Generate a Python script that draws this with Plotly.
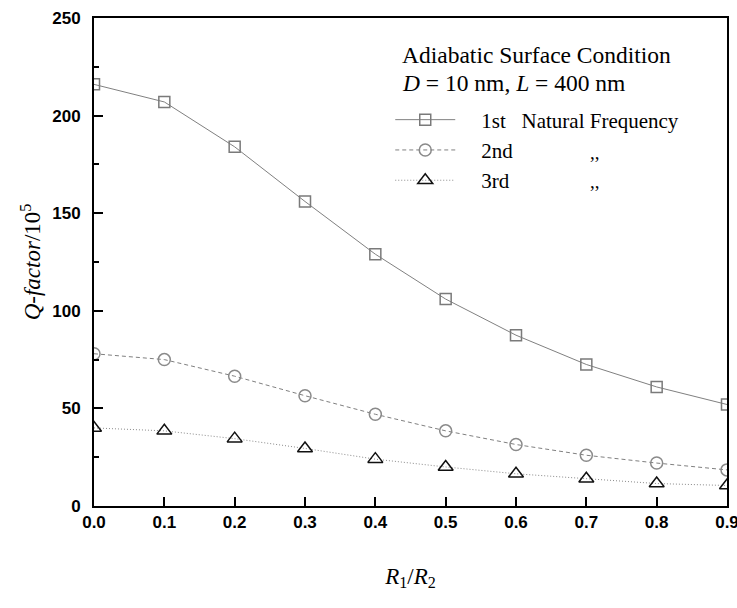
import plotly.graph_objects as go

ratio = [0.0, 0.1, 0.2, 0.3, 0.4, 0.5, 0.6, 0.7, 0.8, 0.9]
q_1st = [216, 207, 184, 156, 129, 106, 87.5, 72.5, 61, 52]
q_2nd = [78, 75, 66.5, 56.5, 47, 38.5, 31.5, 26, 22, 18.5]
q_3rd = [40, 38.5, 34.5, 29.5, 24, 20, 16.5, 14, 11.5, 10.5]
pad = "&nbsp;" * 4
names = [pad + "1st&nbsp;&nbsp;&nbsp;Natural Frequency", pad + "2nd", pad + "3rd"]

fig = go.Figure()
fig.add_trace(go.Scatter(x=ratio, y=q_1st, name=names[0], mode="lines+markers",
                         line=dict(color="#808080", width=1, dash="solid"),
                         marker=dict(symbol="square-open", size=11, color="#7a7a7a", line=dict(width=1.5))))
fig.add_trace(go.Scatter(x=ratio, y=q_2nd, name=names[1], mode="lines+markers",
                         line=dict(color="#808080", width=1, dash="4px,3px"),
                         marker=dict(symbol="circle-open", size=12, color="#8a8a8a", line=dict(width=1.5))))
fig.add_trace(go.Scatter(x=ratio, y=q_3rd, name=names[2], mode="lines+markers",
                         line=dict(color="#8a8a8a", width=1, dash="1px,2px"),
                         marker=dict(symbol="triangle-up-open", size=13, color="#111111", line=dict(width=1.5))))

tickfont = dict(family="Liberation Sans, Arial", size=17, color="black", weight="bold")
fig.update_layout(
    width=737, height=608,
    margin=dict(l=94, r=10, t=18, b=102),
    paper_bgcolor="white", plot_bgcolor="white",
    font=dict(family="Liberation Serif, Times New Roman", size=19, color="black"),
    showlegend=True,
    legend=dict(x=0.468, y=0.833, xanchor="left", yanchor="top",
                bgcolor="rgba(0,0,0,0)", font=dict(family="Liberation Serif", size=21),
                tracegroupgap=0, itemwidth=60),
    xaxis=dict(range=[0, 0.9], dtick=0.1, tickformat=".1f", showgrid=False, zeroline=False,
               ticks="inside", ticklen=9, tickwidth=2, tickcolor="black",
               showline=True, linecolor="black", linewidth=2, mirror=True,
               tickfont=tickfont, automargin=False, ticklabeloverflow="allow",
               title=dict(text="<i>R</i><sub>1</sub>/<i>R</i><sub>2</sub>",
                          font=dict(family="Liberation Serif", size=23), standoff=36)),
    yaxis=dict(range=[0, 250], dtick=50, showgrid=False, zeroline=False,
               ticks="inside", ticklen=9, tickwidth=2, tickcolor="black",
               minor=dict(dtick=25, ticks="inside", ticklen=5, tickwidth=2, tickcolor="black"),
               showline=True, linecolor="black", linewidth=2, mirror=True,
               tickfont=tickfont, automargin=False, ticklabelstandoff=8, ticklabeloverflow="allow",
               title=dict(text="<i>Q-factor</i>/10<sup>5</sup>",
                          font=dict(family="Liberation Serif", size=23), standoff=5)),
)

fig.add_annotation(text="Adiabatic Surface Condition", xref="paper", yref="paper",
                   x=0.483, y=0.924, xanchor="left", yanchor="middle", showarrow=False,
                   font=dict(family="Liberation Serif", size=23.5))
fig.add_annotation(text="<i>D</i> = 10 nm, <i>L</i> = 400 nm", xref="paper", yref="paper",
                   x=0.483, y=0.867, xanchor="left", yanchor="middle", showarrow=False,
                   font=dict(family="Liberation Serif", size=23.5))
for yy in [0.725, 0.664]:
    fig.add_annotation(text=",,", xref="paper", yref="paper",
                       x=0.780, y=yy, xanchor="left", yanchor="middle", showarrow=False,
                       font=dict(family="Liberation Serif", size=19))

fig.write_html("out.html")
